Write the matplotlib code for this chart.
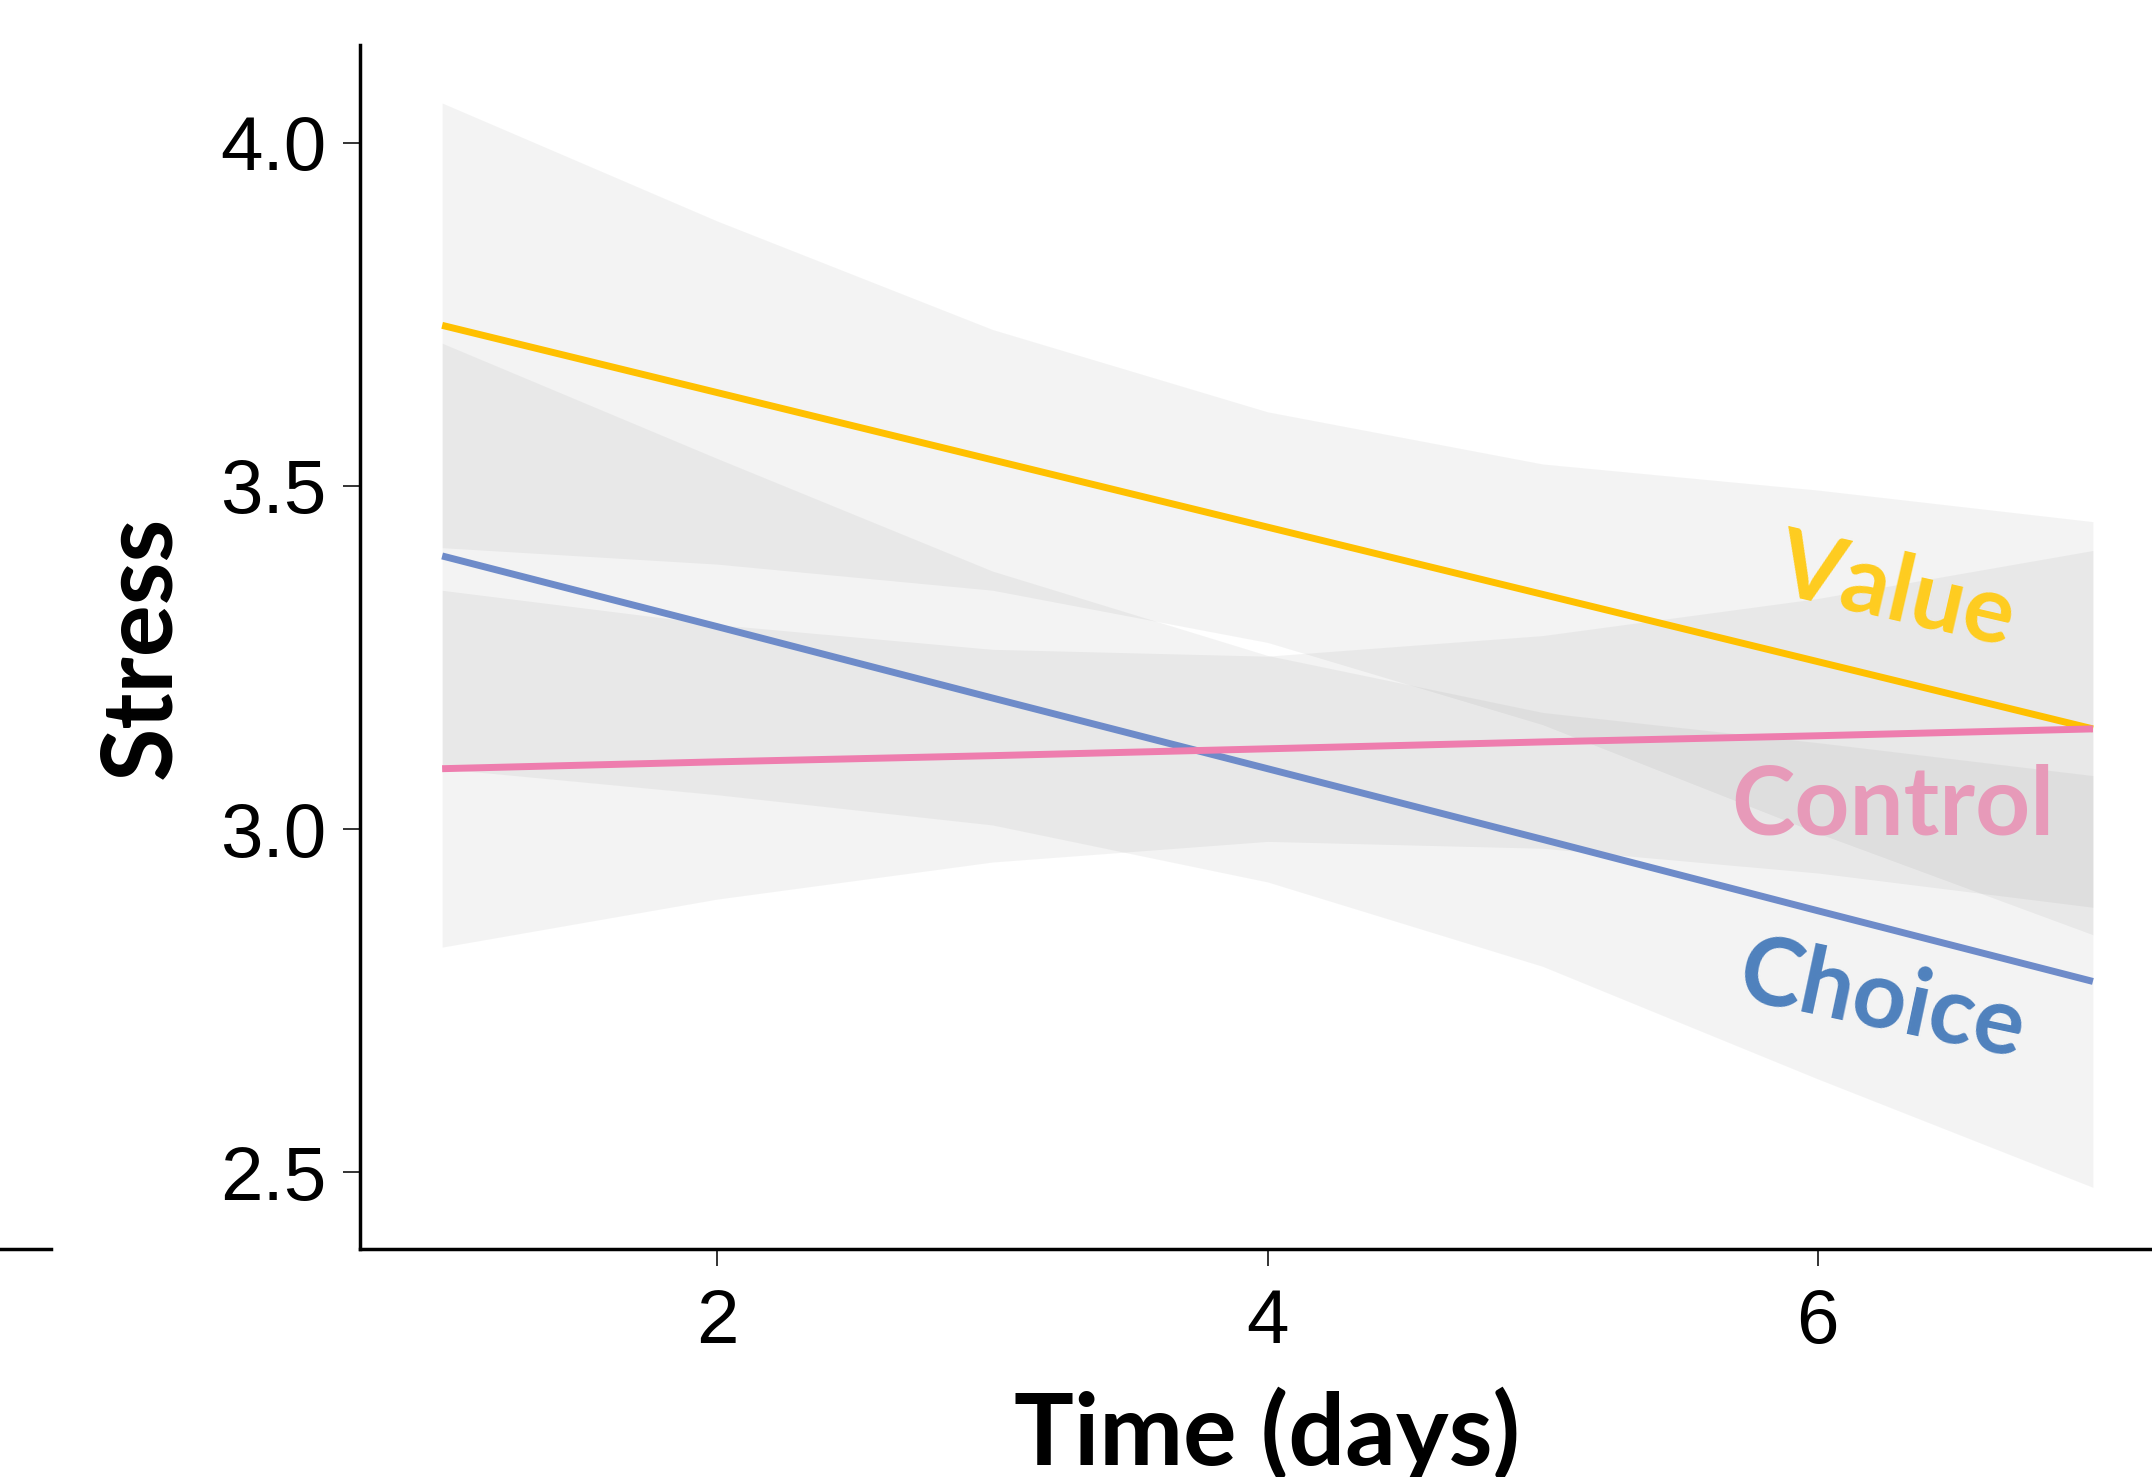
import matplotlib.pyplot as plt
from matplotlib.lines import Line2D

# values (fit line and confidence band per group)
days = [1, 2, 3, 4, 5, 6, 7]

value_fit = [3.734, 3.636, 3.538, 3.440, 3.342, 3.244, 3.146]
value_lo = [3.410, 3.386, 3.348, 3.272, 3.152, 2.994, 2.846]
value_hi = [4.058, 3.886, 3.728, 3.608, 3.532, 3.494, 3.448]

control_fit = [3.088, 3.098, 3.107, 3.117, 3.127, 3.136, 3.146]
control_lo = [2.828, 2.898, 2.952, 2.982, 2.972, 2.936, 2.886]
control_hi = [3.348, 3.298, 3.262, 3.252, 3.282, 3.336, 3.406]

choice_fit = [3.398, 3.295, 3.191, 3.088, 2.985, 2.881, 2.778]
choice_lo = [3.088, 3.050, 3.006, 2.923, 2.800, 2.636, 2.478]
choice_hi = [3.708, 3.540, 3.376, 3.253, 3.170, 3.126, 3.078]

y_ticks = [2.5, 3.0, 3.5, 4.0]
x_ticks = [2, 4, 6]

fig = plt.figure(figsize=(21.52, 14.77), dpi=100)
# the plot is cut off on the right, so the axes run past the figure edge
ax = fig.add_axes([0.1671, 0.1543, 0.8438, 0.815])

banda = dict(color='#7f7f7f', alpha=0.086, linewidth=0)
ax.fill_between(days, value_lo, value_hi, **banda)
ax.fill_between(days, control_lo, control_hi, **banda)
ax.fill_between(days, choice_lo, choice_hi, **banda)

ax.plot(days, choice_fit, color='#6E8BC9', lw=5, solid_capstyle='butt')
ax.plot(days, value_fit, color='#FFC000', lw=5, solid_capstyle='butt')
ax.plot(days, control_fit, color='#EE7DAE', lw=5, solid_capstyle='butt')

ax.set_xlim(0.7, 7.3)
ax.set_ylim(2.388, 4.142)
ax.set_xticks(x_ticks)
ax.set_yticks(y_ticks)
ax.set_yticklabels([f'{v:.1f}' for v in y_ticks])

for s in ['top', 'right']:
    ax.spines[s].set_visible(False)
for s in ['left', 'bottom']:
    ax.spines[s].set_linewidth(2.5)
    ax.spines[s].set_color('black')

ax.tick_params(length=12, width=1.4, color='#333333', labelsize=55,
               labelcolor='black')
ax.tick_params(axis='y', pad=12)
ax.tick_params(axis='x', pad=16)
for lab in ax.get_xticklabels() + ax.get_yticklabels():
    lab.set_family('Liberation Sans')

ax.set_xlabel('Time (days)', family='Lato', fontweight='bold', fontsize=72,
              labelpad=20)
ax.set_ylabel('Stress', family='Lato', fontweight='bold', fontsize=70,
              labelpad=24)

# group labels
ax.text(6.284, 3.344, 'Value', color='#FFCC1F', family='Lato',
        fontweight='bold', fontsize=68, rotation=-13, ha='center', va='center')
ax.text(6.274, 3.032, 'Control', color='#E79AB9', family='Lato',
        fontweight='bold', fontsize=69, ha='center', va='center')
ax.text(6.234, 2.748, 'Choice', color='#4F81BD', family='Lato',
        fontweight='bold', fontsize=68, rotation=-12, ha='center', va='center')

# short stray stroke at the lower left edge of the original
fig.add_artist(Line2D([0, 51 / 2152], [0.1543, 0.1543], color='black', lw=2.5))

fig.savefig('out.png', dpi=100)
